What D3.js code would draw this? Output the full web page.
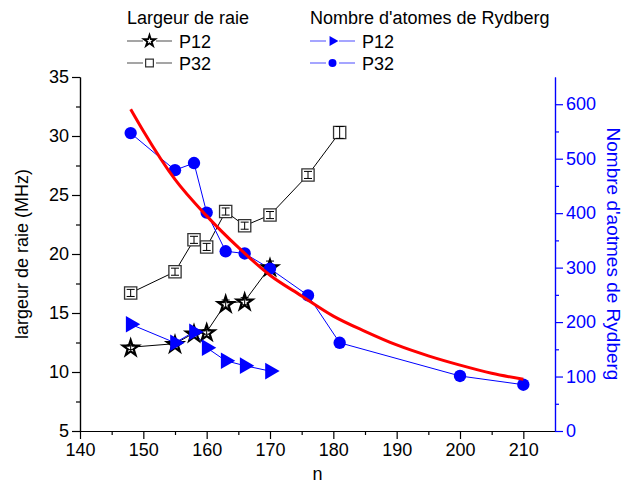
<!DOCTYPE html>
<html>
<head>
<meta charset="utf-8">
<script src="https://cdn.jsdelivr.net/npm/d3@7"></script>
<style>
  body { margin: 0; background: #fff; }
  text { font-family: "Liberation Sans", Arial, sans-serif; }
</style>
</head>
<body>
<div id="chart"></div>
<script>
// n values
const nP12 = [148, 155, 158, 160, 163, 166, 170];
const nP32 = [148, 155, 158, 160, 163, 166, 170, 176, 181];
const nP32atoms = [148, 155, 158, 160, 163, 166, 170, 176, 181, 200, 210];

// largeur de raie (MHz)
const widthP12 = [12.1, 12.4, 13.3, 13.4, 15.8, 16.0, 18.9];
const errP12 = [0.2, 0.2, 0.2, 0.2, 0.3, 0.3, 0.5];
const widthP32 = [16.7, 18.5, 21.2, 20.6, 23.6, 22.4, 23.3, 26.7, 30.3];
const errP32 = [0.3, 0.3, 0.3, 0.3, 0.3, 0.3, 0.3, 0.3, 0.5];

// nombre d'atomes de Rydberg
const atomsP12 = [196, 162, 182, 153, 129, 120, 110];
const atomsP32 = [547, 479, 492, 401, 330, 326, 298, 249, 162, 101, 85];

// red fit curve
const fitN = [148, 150, 155, 160, 165, 170, 175, 180, 185, 190, 195, 200, 205, 210];
const fitAtoms = [591, 551, 462, 395, 337, 286, 248, 211, 183, 158, 138, 121, 106, 95];

const xTicks = [140, 150, 160, 170, 180, 190, 200, 210];
const yLeftTicks = [5, 10, 15, 20, 25, 30, 35];
const yRightTicks = [0, 100, 200, 300, 400, 500, 600];

const W = 624, H = 485;
const margin = { left: 80, right: 69, top: 77, bottom: 54 };

const svg = d3.select("#chart").append("svg")
  .attr("width", W).attr("height", H);

const x = d3.scaleLinear().domain([140, 215]).range([margin.left, W - margin.right]);
const yL = d3.scaleLinear().domain([5, 35]).range([H - margin.bottom, margin.top]);
const yR = d3.scaleLinear().domain([0, 650]).range([H - margin.bottom, margin.top]);

const blue = "#0000ff";

// axes
svg.append("g")
  .attr("transform", `translate(0,${H - margin.bottom})`)
  .call(d3.axisBottom(x).tickValues(xTicks).tickSize(8).tickSizeOuter(0).tickPadding(4));
svg.append("g")
  .attr("transform", `translate(0,${H - margin.bottom})`)
  .call(d3.axisBottom(x).tickValues(d3.range(145, 215, 10)).tickSize(4).tickFormat("").tickSizeOuter(0));

svg.append("g")
  .attr("transform", `translate(${margin.left},0)`)
  .call(d3.axisLeft(yL).tickValues(yLeftTicks).tickSize(8).tickSizeOuter(0).tickPadding(3));
svg.append("g")
  .attr("transform", `translate(${margin.left},0)`)
  .call(d3.axisLeft(yL).tickValues(d3.range(7.5, 35, 5)).tickSize(4).tickFormat("").tickSizeOuter(0));

const rightAxis = svg.append("g")
  .attr("transform", `translate(${W - margin.right},0)`)
  .call(d3.axisRight(yR).tickValues(yRightTicks).tickSize(8).tickSizeOuter(0).tickPadding(3));
const rightMinor = svg.append("g")
  .attr("transform", `translate(${W - margin.right},0)`)
  .call(d3.axisRight(yR).tickValues(d3.range(50, 650, 100)).tickSize(4).tickFormat("").tickSizeOuter(0));

svg.selectAll(".domain, .tick line").attr("stroke-width", 1.2);
svg.selectAll(".tick text").style("font-size", "18px").attr("fill", "#000");
rightAxis.selectAll(".tick text").attr("fill", blue);
rightAxis.selectAll(".domain, .tick line").attr("stroke", blue);
rightMinor.selectAll(".domain, .tick line").attr("stroke", blue);

// axis titles
svg.append("text")
  .attr("transform", `translate(28,${(margin.top + H - margin.bottom) / 2}) rotate(-90)`)
  .attr("text-anchor", "middle")
  .style("font-size", "18px")
  .text("largeur de raie (MHz)");

svg.append("text")
  .attr("x", (margin.left + W - margin.right) / 2)
  .attr("y", 480)
  .attr("text-anchor", "middle")
  .style("font-size", "18px")
  .text("n");

svg.append("text")
  .attr("transform", `translate(607,${(margin.top + H - margin.bottom) / 2}) rotate(90)`)
  .attr("text-anchor", "middle")
  .attr("fill", blue)
  .style("font-size", "19px")
  .text("Nombre d'aotmes de Rydberg");

// marker shapes
const star = d3.symbol().type(d3.symbolStar).size(75);
const square = d3.symbol().type(d3.symbolSquare).size(150);
const circle = d3.symbol().type(d3.symbolCircle).size(120);
const triangle = d3.symbol().type(d3.symbolTriangle).size(120);

const line = d3.line().x(d => d[0]).y(d => d[1]);

// blue series
const p12a = nP12.map((n, i) => [x(n), yR(atomsP12[i])]);
const p32a = nP32atoms.map((n, i) => [x(n), yR(atomsP32[i])]);

// black series
const p12w = nP12.map((n, i) => [x(n), yL(widthP12[i])]);
const p32w = nP32.map((n, i) => [x(n), yL(widthP32[i])]);

svg.append("path").attr("d", line(p32w)).attr("fill", "none").attr("stroke", "#000").attr("stroke-width", 1);
svg.append("path").attr("d", line(p12w)).attr("fill", "none").attr("stroke", "#000").attr("stroke-width", 1);
svg.append("path").attr("d", line(p12a)).attr("fill", "none").attr("stroke", blue).attr("stroke-width", 1);
svg.append("path").attr("d", line(p32a)).attr("fill", "none").attr("stroke", blue).attr("stroke-width", 1);

// error bars
function errBars(ns, vals, errs) {
  const g = svg.append("g").attr("stroke", "#000").attr("stroke-width", 1);
  ns.forEach((n, i) => {
    const cx = x(n), y1 = yL(vals[i] + errs[i]), y2 = yL(vals[i] - errs[i]);
    g.append("line").attr("x1", cx).attr("x2", cx).attr("y1", y1).attr("y2", y2);
    g.append("line").attr("x1", cx - 4).attr("x2", cx + 4).attr("y1", y1).attr("y2", y1);
    g.append("line").attr("x1", cx - 4).attr("x2", cx + 4).attr("y1", y2).attr("y2", y2);
  });
}

svg.selectAll(".sq").data(p32w).enter().append("path")
  .attr("d", square).attr("transform", d => `translate(${d[0]},${d[1]})`)
  .attr("fill", "#fff").attr("stroke", "#333").attr("stroke-width", 1.3);
errBars(nP32, widthP32, errP32);

svg.selectAll(".st").data(p12w).enter().append("path")
  .attr("d", star).attr("transform", d => `translate(${d[0]},${d[1] + 1})`)
  .attr("fill", "#fff").attr("stroke", "#000").attr("stroke-width", 2.2);
errBars(nP12, widthP12, errP12);

svg.selectAll(".tr").data(p12a).enter().append("path")
  .attr("d", triangle).attr("transform", d => `translate(${d[0]},${d[1]}) rotate(90)`)
  .attr("fill", blue);
svg.selectAll(".ci").data(p32a).enter().append("path")
  .attr("d", circle).attr("transform", d => `translate(${d[0]},${d[1]})`)
  .attr("fill", blue);

// red fit curve
svg.append("path")
  .attr("d", d3.line().x((d, i) => x(fitN[i])).y(d => yR(d)).curve(d3.curveMonotoneX)(fitAtoms))
  .attr("fill", "none").attr("stroke", "#ff0000").attr("stroke-width", 3);

// legend
const legend = svg.append("g").style("font-size", "18px");
function legendCol(x0, title, items) {
  legend.append("text").attr("x", x0).attr("y", 24).text(title);
  items.forEach((it, i) => {
    const yy = 41 + i * 22;
    [[x0, x0 + 16], [x0 + 29, x0 + 45]].forEach(seg => {
      legend.append("line").attr("x1", seg[0]).attr("x2", seg[1]).attr("y1", yy).attr("y2", yy)
        .attr("stroke", it.color).attr("stroke-width", 1).attr("opacity", 0.7);
    });
    legend.append("path").attr("d", it.sym)
      .attr("transform", `translate(${x0 + 22.5},${yy})${it.rot || ""}`)
      .attr("fill", it.fill).attr("stroke", it.stroke || "none").attr("stroke-width", it.sw || 0);
    legend.append("text").attr("x", x0 + 52).attr("y", yy + 7).text(it.label);
  });
}
legendCol(127, "Largeur de raie", [
  { label: "P12", sym: d3.symbol().type(d3.symbolStar).size(40)(), color: "#000", fill: "#fff", stroke: "#000", sw: 1.8 },
  { label: "P32", sym: d3.symbol().type(d3.symbolSquare).size(60)(), color: "#000", fill: "#fff", stroke: "#333", sw: 1.2 }
]);
legendCol(310, "Nombre d'atomes de Rydberg", [
  { label: "P12", sym: d3.symbol().type(d3.symbolTriangle).size(45)(), color: blue, fill: blue, rot: " rotate(90)" },
  { label: "P32", sym: d3.symbol().type(d3.symbolCircle).size(50)(), color: blue, fill: blue }
]);
</script>
</body>
</html>
